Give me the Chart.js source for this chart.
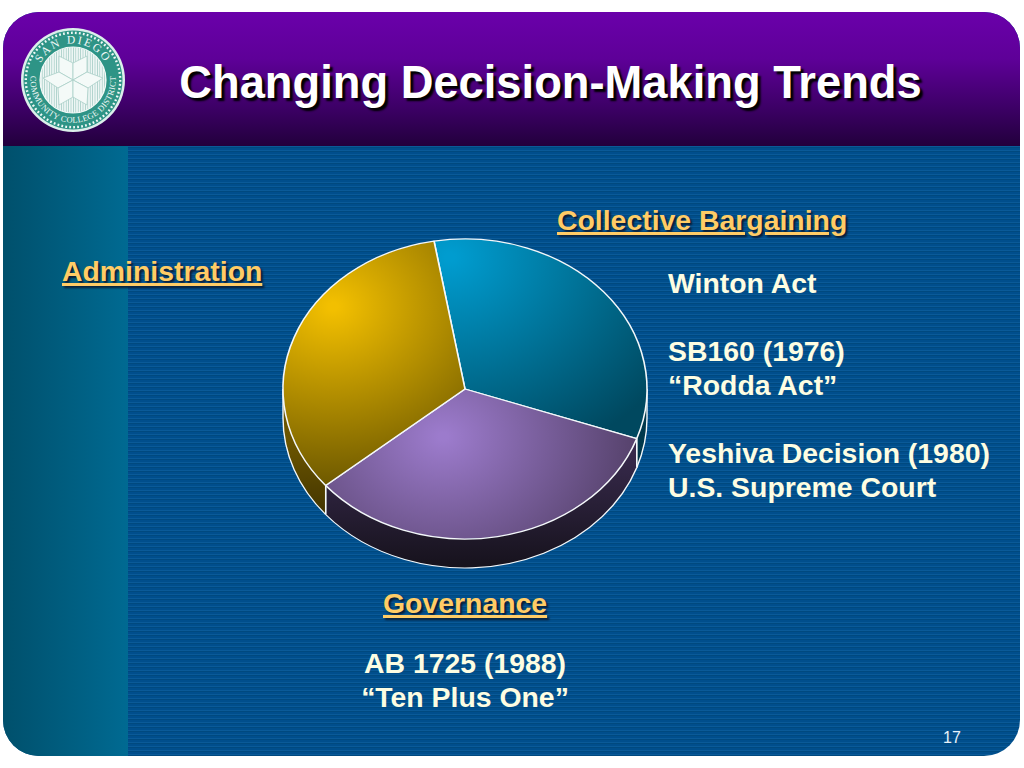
<!DOCTYPE html>
<html>
<head>
    <title>Changing Decision-Making Trends</title>
    <style>
        html, body{
            margin: 0;
            width: 1024px;
            height: 768px;
            overflow: hidden;
            background: white;
            font-family: "Liberation Sans", Arial, sans-serif;
        }
        #slide{
            position: absolute;
            left: 3px;
            top: 12px;
            width: 1017px;
            height: 744px;
            border-radius: 36px;
            overflow: hidden;
            background: repeating-linear-gradient(to bottom, #004e8c 0px, #004e8c 2px, #0a5a98 2px, #0a5a98 3px, #00497f 3px, #00497f 4px);
        }
        #band{
            position: absolute;
            left: 0;
            top: 134px;
            width: 125px;
            height: 610px;
            background: linear-gradient(to right, #00506c, #006a92);
        }
        #header{
            position: absolute;
            left: 0;
            top: 0;
            width: 1017px;
            height: 134px;
            background: linear-gradient(to bottom, #6a00aa 0%, #5e0098 35%, #3e0068 70%, #22003c 100%);
        }
        .txt{
            position: absolute;
            white-space: nowrap;
        }
        #title{
            left: 0;
            top: 57px;
            width: 1101px;
            text-align: center;
            color: white;
            font-size: 45.3px;
            font-weight: bold;
            text-shadow: 3px 3px 2px #000;
        }
        .head{
            color: #ffcc66;
            font-size: 28.4px;
            font-weight: bold;
            text-decoration: underline;
            text-decoration-thickness: 3px;
            text-shadow: 2px 2px 2px #0a1c33;
        }
        .body{
            color: #fdfde2;
            font-size: 28.4px;
            font-weight: bold;
            line-height: 34px;
        }
        #pie-wrap{
            position: absolute;
            left: 265px;
            top: 189px;
            width: 400px;
            height: 400px;
        }
        #logo{
            position: absolute;
            left: 18px;
            top: 24px;
        }
    </style>
</head>
<body>
<div id="slide">
    <div id="band"></div>
    <div id="header"></div>
</div>

<svg id="logo" width="110" height="112" viewBox="-55 -56 110 112">
    <defs>
        <path id="arcTop" d="M -36.5 0 A 36.5 36.5 0 0 1 36.5 0"></path>
        <path id="arcBottom" d="M -41.5 -10 A 42.7 42.7 0 1 0 41.5 -10"></path>
        <pattern id="hatch" width="2.4" height="3" patternUnits="userSpaceOnUse">
            <rect width="2.4" height="3" fill="#eef6f4"></rect>
            <rect width="0.8" height="3" fill="#a9cfc8"></rect>
        </pattern>
    </defs>
    <circle r="52" fill="#dcefeb"></circle>
    <circle r="49.5" fill="#2e9486"></circle>
    <circle r="47.2" fill="none" stroke="#f0f8f6" stroke-width="2.4" stroke-dasharray="1.8 2.2"></circle>
    <circle r="33" fill="url(#hatch)" stroke="#f4faf8" stroke-width="1.2"></circle>
    <g fill="#f4faf8" stroke="#a9cfc8" stroke-width="0.8">
        <path d="M0 0 L-14 -8 L-14 -24 L0 -17 Z"></path>
        <path d="M0 0 L14 -8 L14 -24 L0 -17 Z"></path>
        <path d="M0 0 L14 -8 L30 -2 L15 8 Z"></path>
        <path d="M0 0 L-14 -8 L-30 -2 L-15 8 Z"></path>
        <path d="M0 0 L-15 8 L-14 25 L0 17 Z"></path>
        <path d="M0 0 L15 8 L14 25 L0 17 Z"></path>
    </g>
    <text font-family="Liberation Serif" font-size="11.5" fill="#f0f8f6" letter-spacing="2" text-anchor="middle">
        <textPath href="#arcTop" startOffset="50%">SAN DIEGO</textPath>
    </text>
    <text font-family="Liberation Serif" font-size="8.5" fill="#f0f8f6" letter-spacing="0.3" text-anchor="middle">
        <textPath href="#arcBottom" startOffset="50%">COMMUNITY COLLEGE DISTRICT</textPath>
    </text>
</svg>

<div class="txt" id="title">Changing Decision-Making Trends</div>

<div class="txt head" id="lab0" style="left:557px;top:204px;">Collective Bargaining</div>
<div class="txt head" id="lab1" style="left:383px;top:587px;">Governance</div>
<div class="txt head" id="lab2" style="left:62px;top:255px;">Administration</div>

<div class="txt body" style="left:668px;top:266px;">Winton Act<br><br>SB160 (1976)<br>“Rodda Act”<br><br>Yeshiva Decision (1980)<br>U.S. Supreme Court</div>
<div class="txt body" style="left:265px;top:646px;width:400px;text-align:center;">AB 1725 (1988)<br>“Ten Plus One”</div>
<div class="txt" style="left:943px;top:729px;color:#e8f2fa;font-size:16px;">17</div>

<div id="pie-wrap"><canvas id="pie" width="400" height="400"></canvas></div>

<script src="https://cdnjs.cloudflare.com/ajax/libs/Chart.js/4.4.1/chart.umd.js"></script>
<script>
    const sliceNames = ["Collective Bargaining", "Governance", "Administration"];
    const sliceShares = [33.1, 33.5, 33.4];

    // top face colours: highlight, far edge
    const faceColors = [["#009ccf", "#00485f"], ["#9c7bcc", "#4c3a5e"], ["#f2bf00", "#6f5a00"]];
    // highlight spot of each slice, relative to the pie centre, before squash
    const faceSpots = [[-15, -160], [-22, 58], [-132, -100]];
    const faceReach = [260, 220, 215];
    // rim colours: top, bottom
    const rimColors = [["#00384c", "#001c28"], ["#3a2c50", "#16121c"], ["#6b5500", "#241c00"]];

    const squash = 150 / 182;
    const rimDepth = 29 / squash;
    const pieRadius = 182;

    function faceGradient(context) {
        const i = context.dataIndex;
        const c = context.chart.ctx;
        const cx = context.chart.width / 2;
        const cy = context.chart.height / 2;
        const g = c.createRadialGradient(cx + faceSpots[i][0], cy + faceSpots[i][1], 5,
            cx + faceSpots[i][0], cy + faceSpots[i][1], faceReach[i]);
        g.addColorStop(0, faceColors[i][0]);
        g.addColorStop(1, faceColors[i][1]);
        return g;
    }

    // squash the pie into an ellipse and put a rim under it
    const tiltPlugin = {
        id: "tilt",
        beforeDatasetsDraw(chart) {
            const c = chart.ctx;
            const arcs = chart.getDatasetMeta(0).data;
            const cx = arcs[0].x;
            const cy = arcs[0].y;
            c.save();
            c.translate(cx, cy);
            c.scale(1, squash);
            c.translate(-cx, -cy);
            arcs.forEach((arc, i) => {
                const a0 = Math.max(arc.startAngle, 0);
                const a1 = Math.min(arc.endAngle, Math.PI);
                if (a1 <= a0) {
                    return;
                }
                const r = arc.outerRadius;
                const g = c.createLinearGradient(0, cy, 0, cy + r + rimDepth);
                g.addColorStop(0.3, rimColors[i][0]);
                g.addColorStop(1, rimColors[i][1]);
                c.beginPath();
                c.arc(cx, cy, r, a0, a1);
                c.arc(cx, cy + rimDepth, r, a1, a0, true);
                c.closePath();
                c.fillStyle = g;
                c.fill();
                // edges of the rim
                c.strokeStyle = "#f4f8fa";
                c.lineWidth = 1.4;
                c.beginPath();
                c.arc(cx, cy + rimDepth, r, a0, a1);
                c.stroke();
                [a0, a1].forEach(a => {
                    if (a > 0.01 && a < Math.PI - 0.01) {
                        const x = cx + Math.cos(a) * r;
                        const y = cy + Math.sin(a) * r;
                        c.beginPath();
                        c.moveTo(x, y);
                        c.lineTo(x, y + rimDepth);
                        c.stroke();
                    }
                });
            });
            // short side edges where the rim leaves the top ellipse
            c.beginPath();
            c.moveTo(cx + pieRadius, cy);
            c.lineTo(cx + pieRadius, cy + rimDepth);
            c.moveTo(cx - pieRadius, cy);
            c.lineTo(cx - pieRadius, cy + rimDepth);
            c.stroke();
        },
        afterDatasetsDraw(chart) {
            chart.ctx.restore();
        }
    };

    new Chart("pie", {
        type: "pie",
        data: {
            labels: sliceNames,
            datasets: [{
                data: sliceShares,
                backgroundColor: faceGradient,
                borderColor: "#f4f8fa",
                borderWidth: 1.6,
                borderAlign: "center",
                hoverOffset: 0,
                clip: false
            }]
        },
        options: {
            responsive: false,
            animation: false,
            rotation: -9.8,
            radius: pieRadius,
            plugins: {
                legend: {display: false},
                tooltip: {enabled: false}
            }
        },
        plugins: [tiltPlugin]
    });
</script>
</body>
</html>
